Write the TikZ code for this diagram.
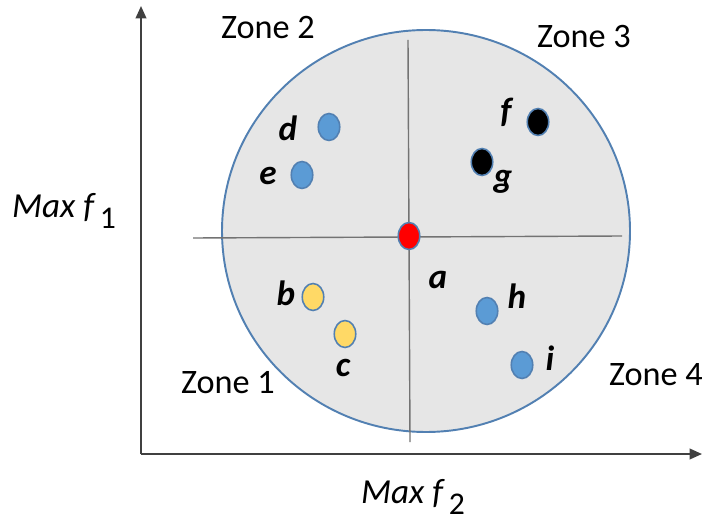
\documentclass[tikz,border=0pt]{standalone}
\usepackage{fontspec}
\setmainfont{Carlito}
\usetikzlibrary{arrows.meta, shapes.geometric}
\definecolor{rimblue}{RGB}{82,128,178}
\definecolor{dotblue}{RGB}{91,155,213}
\definecolor{dotyellow}{RGB}{255,217,102}
\definecolor{zonegray}{RGB}{230,230,230}

\begin{document}
\begin{tikzpicture}[x=0.02cm, y=-0.02cm,
  dot/.style={ellipse, draw=rimblue, line width=0.9pt, minimum width=0.43cm,
              minimum height=0.54cm, inner sep=0pt},
  lbl/.style={font=\fontsize{20}{22}\selectfont\bfseries\itshape},
  zone/.style={font=\fontsize{19.5}{22}\selectfont},
  axis/.style={-{Triangle[length=7pt, width=6pt]}, line width=1.1pt, black!75},
  split/.style={line width=0.8pt, black!55}]
\useasboundingbox (0,0) rectangle (702,523);
% front region
\draw[rimblue, fill=zonegray, line width=1.1pt] (426,231) ellipse [x radius=204, y radius=201];
\coordinate (hl) at (193,238); \coordinate (hr) at (622,236);
\coordinate (vt) at (408,40);  \coordinate (vb) at (410,442);
\draw[split] (hl)--(hr); \draw[split] (vt)--(vb);
% axes
\coordinate (o) at (141,454);
\coordinate (ytop) at (141,6); \coordinate (xend) at (702,454);
\draw[axis] (o)--(ytop); \draw[axis] (o)--(xend);
\node (f1) at (64,211) {\fontsize{20}{22}\selectfont\itshape Max f\,\raisebox{-0.6ex}{\fontsize{18}{20}\selectfont\upshape 1}};
\node (f2) at (413,497) {\fontsize{20}{22}\selectfont\itshape Max f\,\raisebox{-0.6ex}{\fontsize{18}{20}\selectfont\upshape 2}};
% zones
\node[zone] (z2) at (268,28) {Zone 2};
\node[zone] (z3) at (584,37) {Zone 3};
\node[zone] (z1) at (228,383) {Zone 1};
\node[zone] (z4) at (656,375) {Zone 4};
% solutions
\node[dot, fill=red] (pa) at (409,236) {};
\node[dot, fill=dotblue] (pd) at (329,127) {};
\node[dot, fill=dotblue] (pe) at (302,175) {};
\node[dot, fill=black] (pf) at (538,122) {};
\node[dot, fill=black] (pg) at (482,162) {};
\node[dot, fill=dotyellow] (pb) at (313,297) {};
\node[dot, fill=dotyellow] (pc) at (345,334) {};
\node[dot, fill=dotblue] (ph) at (487,311) {};
\node[dot, fill=dotblue] (pi) at (522,365) {};
\node[lbl] (la) at (438,280) {a};
\node[lbl] (lb) at (286,293) {b};
\node[lbl] (lc) at (343,368) {c};
\node[lbl] (ld) at (288,128) {d};
\node[lbl] (le) at (268,176) {e};
\node[lbl] (lf) at (506,112) {f};
\node[lbl] (lg) at (503,182) {g};
\node[lbl] (lh) at (517,296) {h};
\node[lbl] (li) at (550,358) {i};
\end{tikzpicture}
\end{document}
